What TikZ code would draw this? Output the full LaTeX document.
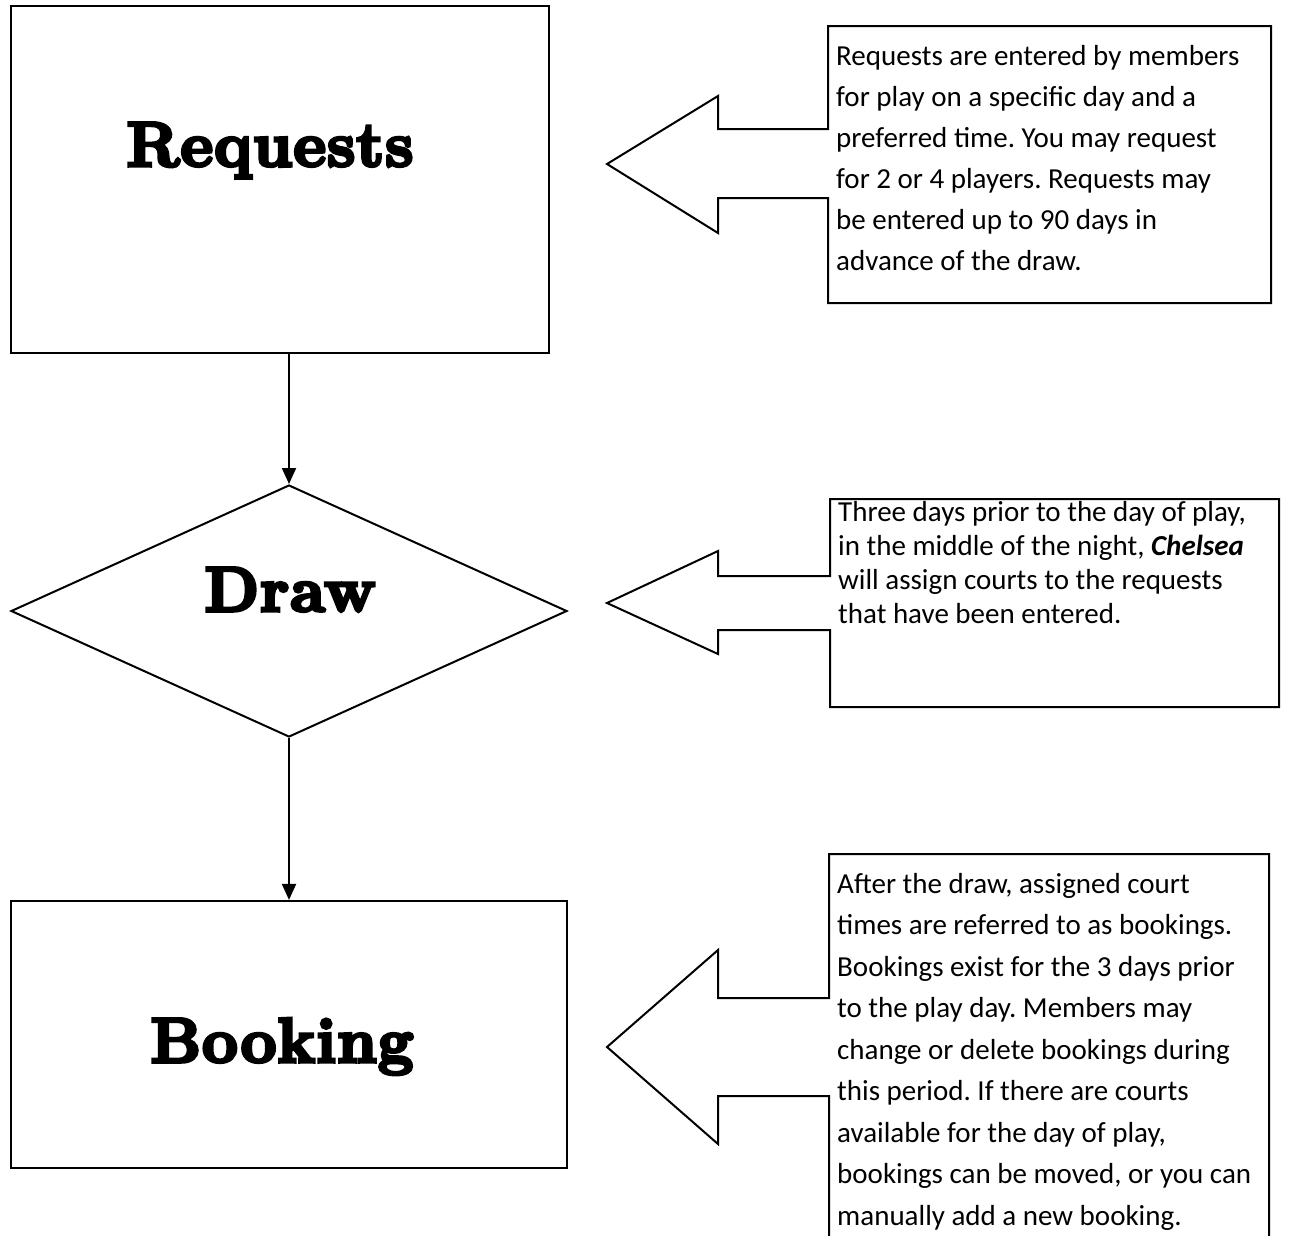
\documentclass[tikz,border=0pt]{standalone}
\usepackage{fontspec}
\usetikzlibrary{arrows.meta,shapes.geometric}
\newfontfamily\calfont{Carlito}
\newfontfamily\posterfont{Latin Modern Roman}[BoldFeatures={FakeBold=5.5,LetterSpace=2}]
\frenchspacing
\begin{document}
\begin{tikzpicture}[x=1pt,y=-1pt,
  procbox/.style={draw, line width=2.2pt, inner sep=0pt},
  decbox/.style={diamond, draw, line width=2pt, inner sep=0pt},
  title/.style={anchor=base, inner sep=0pt, font=\posterfont\bfseries\fontsize{63}{63}\selectfont},
  flowarrow/.style={line width=2pt, -{Triangle[length=16pt,width=14pt]}},
  callout/.style={line width=2pt, line join=miter},
  calltext/.style={anchor=base west, inner sep=0pt, font=\calfont\fontsize{29}{34}\selectfont}]
\useasboundingbox (0,0) rectangle (1297,1235);
\clip (0,0) rectangle (1297,1235);

% flow nodes
\node[procbox, minimum width=538pt, minimum height=347pt] (req) at (280,179.5) {};
\node[title] (reqt) at (270,166) {Requests};
\node[decbox, minimum width=556pt, minimum height=252pt] (drw) at (289,611) {};
\node[title] (drwt) at (290,611) {Draw};
\node[procbox, minimum width=556pt, minimum height=267pt] (book) at (289,1034.5) {};
\node[title] (bookt) at (282,1062) {Booking};

\draw[flowarrow] (drw.north |- req.south) -- (drw.north);
\draw[flowarrow] (drw.south) -- (book.north);

% callout 1
\draw[callout] (828,198) -- (718,198) -- (718,233) -- (607,164) -- (718,96) -- (718,129) -- (828,129)
  -- (828,26) -- (1271,26) -- (1271,303) -- (828,303) -- cycle;
\foreach \t [count=\i] in {{Requests are entered by members},{for play on a specific day and a},
  {preferred time. You may request},{for 2 or 4 players. Requests may},
  {be entered up to 90 days in},{advance of the draw.}}
  \node[calltext] (ca\i) at (836,{65+(\i-1)*41}) {\t};

% callout 2
\draw[callout] (830,630) -- (718,630) -- (718,654) -- (607,603) -- (718,551) -- (718,576) -- (830,576)
  -- (830,499) -- (1279,499) -- (1279,707) -- (830,707) -- cycle;
\foreach \t [count=\i] in {{Three days prior to the day of play,},
  {in the middle of the night, \textbf{\textit{Chelsea}}},
  {will assign courts to the requests},{that have been entered.}}
  \node[calltext] (cb\i) at (838,{521+(\i-1)*34}) {\t};

% callout 3
\draw[callout] (829,1245) -- (829,1096) -- (718,1096) -- (718,1144) -- (607,1047) -- (718,950) -- (718,998)
  -- (829,998) -- (829,854) -- (1269,854) -- (1269,1245);
\foreach \t [count=\i] in {{After the draw, assigned court},{times are referred to as bookings.},
  {Bookings exist for the 3 days prior},{to the play day. Members may},
  {change or delete bookings during},{this period. If there are courts},
  {available for the day of play,},{bookings can be moved, or you can},
  {manually add a new booking.}}
  \node[calltext] (cc\i) at (837,{893+(\i-1)*41.5}) {\t};
\end{tikzpicture}
\end{document}
